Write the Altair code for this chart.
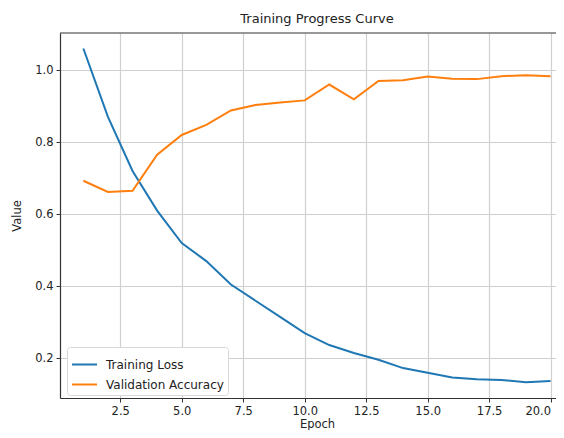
import altair as alt
import pandas as pd

epochs = list(range(1, 21))
train_loss = [1.06, 0.87, 0.72, 0.61, 0.52, 0.47, 0.405, 0.36, 0.315, 0.27,
              0.237, 0.215, 0.196, 0.173, 0.16, 0.147, 0.142, 0.14, 0.134, 0.137]
val_acc = [0.693, 0.662, 0.665, 0.765, 0.82, 0.848, 0.888, 0.903, 0.91, 0.916,
           0.96, 0.919, 0.97, 0.972, 0.982, 0.976, 0.975, 0.983, 0.986, 0.983]
series = ["Training Loss", "Validation Accuracy"]
colors = ["#1f77b4", "#ff7f0e"]
x_ticks = [2.5, 5.0, 7.5, 10.0, 12.5, 15.0, 17.5, 20.0]
y_ticks = [0.2, 0.4, 0.6, 0.8, 1.0]

rows = []
for e, l, a in zip(epochs, train_loss, val_acc):
    rows.append({"Epoch": e, "Value": l, "Series": series[0]})
    rows.append({"Epoch": e, "Value": a, "Series": series[1]})
df = pd.DataFrame(rows)

FONT = "DejaVu Sans"
W, H = 496, 365

lines = alt.Chart(df).mark_line(strokeWidth=2, clip=True).encode(
    x=alt.X("Epoch:Q",
            scale=alt.Scale(domain=[0.05, 20.22], nice=False, zero=False),
            axis=alt.Axis(values=x_ticks, format=".1f", title="Epoch",
                          titleX=257, titleY=29, titleBaseline="alphabetic",
                          titleFontWeight="normal", labelFlush=8)),
    y=alt.Y("Value:Q",
            scale=alt.Scale(domain=[0.09, 1.103], nice=False, zero=False),
            axis=alt.Axis(values=y_ticks, format=".1f", title="Value",
                          titleFontWeight="normal", titlePadding=12)),
    color=alt.Color("Series:N",
                    scale=alt.Scale(domain=series, range=colors),
                    legend=alt.Legend(title=None, orient="none",
                                      legendX=7, legendY=314,
                                      symbolType="stroke", symbolSize=625,
                                      symbolStrokeWidth=2, rowPadding=-6,
                                      labelFontSize=12, labelFont=FONT,
                                      labelColor="#222",
                                      fillColor="white",
                                      strokeColor="#d8d8d8",
                                      cornerRadius=3, padding=4,
                                      labelOffset=8)),
)

top_spine = alt.Chart(pd.DataFrame({"v": [0]})).mark_rule(
    color="#333", strokeWidth=1.2).encode(
    y=alt.value(0), x=alt.value(0), x2=alt.value(W))

chart = alt.layer(lines, top_spine).properties(
    width=W, height=H,
    title=alt.Title("Training Progress Curve", fontSize=13,
                    fontWeight="normal", font=FONT, color="#222",
                    dx=9, offset=6),
    autosize=alt.AutoSizeParams(type="none"),
    padding={"left": 52, "top": 25, "right": 0, "bottom": 32},
).configure_view(stroke=None).configure_axis(
    labelFont=FONT, titleFont=FONT, labelFontSize=11.5, titleFontSize=11.5,
    labelColor="#222", titleColor="#222",
    grid=True, gridColor="#d0d0d0", gridWidth=1.2,
    domainColor="#333", domainWidth=1.2,
    tickColor="#333", tickSize=4, labelPadding=3,
)

chart.save("out.html", embed_options={"renderer": "svg", "actions": False})
